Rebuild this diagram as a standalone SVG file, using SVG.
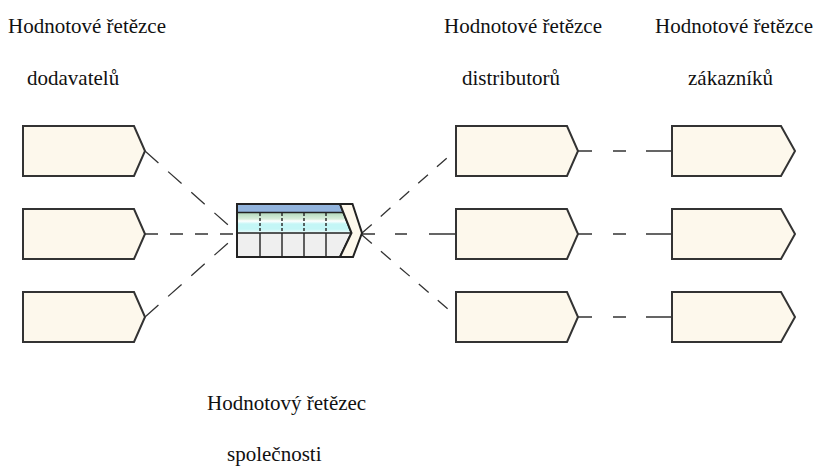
<svg xmlns="http://www.w3.org/2000/svg" width="818" height="467" viewBox="0 0 818 467">
  <style>
    .box { fill: #fdf8ec; stroke: #333333; stroke-width: 2; stroke-linejoin: miter; }
    .lbl { font-size: 21px; fill: #111111; }
    .link { fill: none; stroke: #333333; stroke-width: 1.5; }
    .diag { fill: none; stroke: #333333; stroke-width: 1.3; }
    .grid { stroke: #222222; stroke-width: 1.4; }
  </style>

  <rect width="818" height="467" fill="#ffffff"/>

  <!-- labels -->
  <g id="labels" font-family="'Liberation Serif', 'DejaVu Serif', serif">
    <text class="lbl" x="8" y="33">Hodnotové řetězce</text>
    <text class="lbl" x="27" y="85">dodavatelů</text>
    <text class="lbl" x="444" y="33">Hodnotové řetězce</text>
    <text class="lbl" x="462" y="85">distributorů</text>
    <text class="lbl" x="655" y="33">Hodnotové řetězce</text>
    <text class="lbl" x="688" y="85">zákazníků</text>
    <text class="lbl" x="207" y="410">Hodnotový řetězec</text>
    <text class="lbl" x="227" y="461">společnosti</text>
  </g>

  <!-- connectors -->
  <g id="connectors">
    <!-- suppliers to company -->
    <path class="diag" d="M145,151 L237,233" stroke-dasharray="18 13"/>
    <path class="link" d="M145,234 H237" stroke-dasharray="13 12"/>
    <path class="diag" d="M145,317 L237,235" stroke-dasharray="18 13"/>
    <!-- company to distributors -->
    <path class="diag" d="M362,233 L456,150" stroke-dasharray="13 12"/>
    <path class="link" d="M362,234 H375 M395,234 H407 M429,234 H456"/>
    <path class="diag" d="M362,235 L456,316" stroke-dasharray="13 12"/>
    <!-- distributors to customers -->
    <path class="link" d="M578,151 H592 M613,151 H626 M646,151 H672"/>
    <path class="link" d="M578,234 H592 M613,234 H626 M646,234 H672"/>
    <path class="link" d="M578,317 H592 M613,317 H626 M646,317 H672"/>
  </g>

  <!-- supplier value chains -->
  <g id="supplier1"><path class="box" d="M23,126 H134 L145,151 L134,176 H23 Z"/></g>
  <g id="supplier2"><path class="box" d="M23,209 H134 L145,234 L134,259 H23 Z"/></g>
  <g id="supplier3"><path class="box" d="M23,292 H134 L145,317 L134,342 H23 Z"/></g>

  <!-- company value chain -->
  <g id="company">
    <defs>
      <linearGradient id="bands" x1="0" y1="0" x2="0" y2="1">
        <stop offset="0" stop-color="#b4d9bd"/>
        <stop offset="0.3" stop-color="#d8eedc"/>
        <stop offset="0.4" stop-color="#ffffff"/>
        <stop offset="0.55" stop-color="#c4f6f6"/>
        <stop offset="0.8" stop-color="#c4f6f6"/>
        <stop offset="1" stop-color="#eefcfc"/>
      </linearGradient>
    </defs>
    <!-- body -->
    <path d="M237,204 H340 L351.5,233 L340,257 H237 Z" fill="#efefef"/>
    <path d="M237,213 H343.5 L351.5,233 H237 Z" fill="url(#bands)"/>
    <path d="M237,204 H340 L343.5,213 H237 Z" fill="#92b4dd"/>
    <!-- support activity columns -->
    <path class="grid" d="M260,213 V232 M282,213 V232 M304,213 V232 M326,213 V232" stroke-dasharray="3 2"/>
    <path class="grid" d="M260,233 V257 M282,233 V257 M304,233 V257 M326,233 V257"/>
    <path class="grid" d="M237,212.5 H343 M237,233 H351"/>
    <path d="M237,204 H340 L351.5,233 L340,257 H237 Z" fill="none" stroke="#222222" stroke-width="2"/>
    <!-- margin chevron -->
    <path d="M340,204 H352.5 L362,233 L353,257 H340 L351.5,233 Z" fill="#fdf8ec" stroke="#222222" stroke-width="2" stroke-linejoin="miter"/>
  </g>

  <!-- distributor value chains -->
  <g id="distributor1"><path class="box" d="M456,126 H567 L578,151 L567,176 H456 Z"/></g>
  <g id="distributor2"><path class="box" d="M456,209 H567 L578,234 L567,259 H456 Z"/></g>
  <g id="distributor3"><path class="box" d="M456,292 H567 L578,317 L567,342 H456 Z"/></g>

  <!-- customer value chains -->
  <g id="customer1"><path class="box" d="M672,126 H781 L795,151 L781,176 H672 Z"/></g>
  <g id="customer2"><path class="box" d="M672,209 H781 L795,234 L781,259 H672 Z"/></g>
  <g id="customer3"><path class="box" d="M672,292 H781 L795,317 L781,342 H672 Z"/></g>
</svg>
